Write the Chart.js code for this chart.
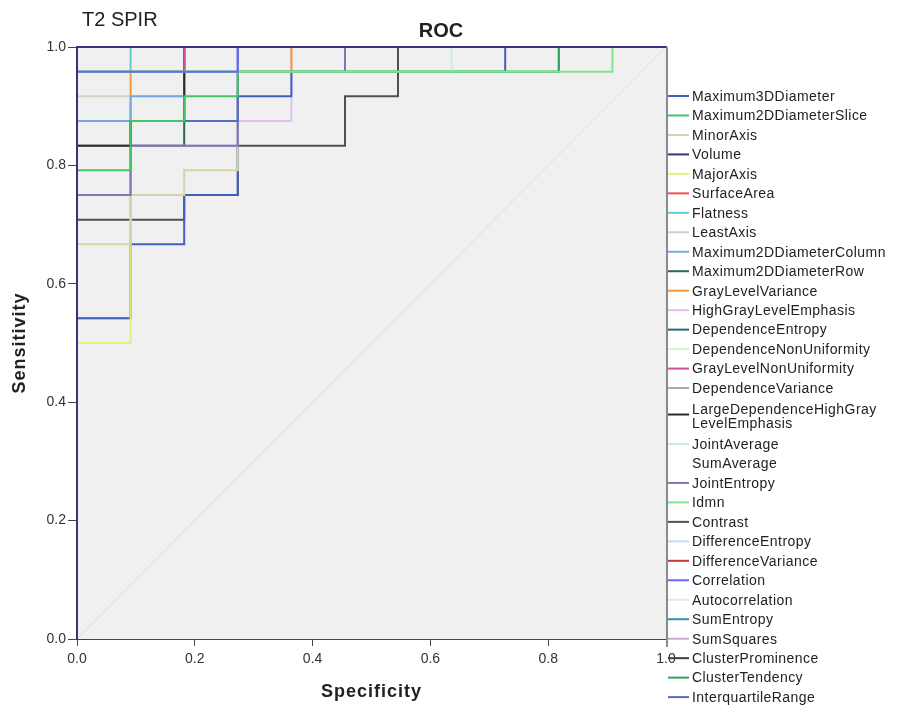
<!DOCTYPE html>
<html lang="en">
<head>
    <meta charset="UTF-8">
    <title>ROC - T2 SPIR</title>
    <script src="https://cdn.jsdelivr.net/npm/chart.js"></script>
    <style>
        body {
            margin: 0;
            padding: 0;
            background: #fff;
        }
        #roc {
            display: block;
        }
    </style>
</head>
<body>
    <canvas id="roc" width="901" height="713"></canvas>

    <script>
        // ROC curves, points as [1 - specificity, sensitivity] corners (11 negatives, 24 positives)
        const maximum3DDiameter = [[0, 0], [0, 0.542], [0.091, 0.542], [0.091, 0.667], [0.182, 0.667], [0.182, 0.75], [0.273, 0.75], [0.273, 0.917], [0.364, 0.917], [0.364, 0.958], [0.727, 0.958], [0.727, 1], [1, 1]];
        const maximum2DDiameterSlice = [[0, 0], [0, 0.792], [0.091, 0.792], [0.091, 0.875], [0.182, 0.875], [0.182, 0.917], [0.273, 0.917], [0.273, 0.958], [0.818, 0.958], [0.818, 1], [1, 1]];
        const minorAxis = [[0, 0], [0, 0.667], [0.091, 0.667], [0.091, 0.75], [0.182, 0.75], [0.182, 0.792], [0.273, 0.792], [0.273, 1], [1, 1]];
        const volume = [[0, 0], [0, 1], [1, 1]];
        const majorAxis = [[0, 0], [0, 0.5], [0.091, 0.5], [0.091, 0.875], [0.182, 0.875], [0.182, 1], [1, 1]];
        const surfaceArea = [[0, 0], [0, 1], [1, 1]];
        const flatness = [[0, 0], [0, 0.958], [0.091, 0.958], [0.091, 1], [1, 1]];
        const leastAxis = [[0, 0], [0, 0.917], [0.182, 0.917], [0.182, 1], [1, 1]];
        const maximum2DDiameterColumn = [[0, 0], [0, 0.875], [0.091, 0.875], [0.091, 0.917], [0.182, 0.917], [0.182, 1], [1, 1]];
        const maximum2DDiameterRow = [[0, 0], [0, 0.833], [0.182, 0.833], [0.182, 1], [1, 1]];
        const grayLevelVariance = [[0, 0], [0, 0.542], [0.091, 0.542], [0.091, 0.958], [0.364, 0.958], [0.364, 1], [1, 1]];
        const highGrayLevelEmphasis = [[0, 0], [0, 0.875], [0.364, 0.875], [0.364, 1], [1, 1]];
        const dependenceEntropy = [[0, 0], [0, 1], [1, 1]];
        const dependenceNonUniformity = [[0, 0], [0, 1], [1, 1]];
        const grayLevelNonUniformity = [[0, 0], [0, 0.958], [0.182, 0.958], [0.182, 1], [1, 1]];
        const dependenceVariance = [[0, 0], [0, 0.75], [0.091, 0.75], [0.091, 0.875], [0.182, 0.875], [0.182, 1], [1, 1]];
        const largeDependenceHighGrayLevelEmphasis = [[0, 0], [0, 0.833], [0.091, 0.833], [0.091, 0.875], [0.182, 0.875], [0.182, 1], [1, 1]];
        const jointAverage = [[0, 0], [0, 0.958], [0.636, 0.958], [0.636, 1], [1, 1]];
        const sumAverage = [[0, 0], [0, 1], [1, 1]];
        const jointEntropy = [[0, 0], [0, 0.75], [0.091, 0.75], [0.091, 0.833], [0.273, 0.833], [0.273, 0.958], [0.455, 0.958], [0.455, 1], [1, 1]];
        const idmn = [[0, 0], [0, 0.958], [0.909, 0.958], [0.909, 1], [1, 1]];
        const contrast = [[0, 0], [0, 0.708], [0.182, 0.708], [0.182, 0.75], [0.273, 0.75], [0.273, 0.833], [0.455, 0.833], [0.455, 0.917], [0.545, 0.917], [0.545, 1], [1, 1]];
        const differenceEntropy = [[0, 0], [0, 1], [1, 1]];
        const differenceVariance = [[0, 0], [0, 1], [1, 1]];
        const correlation = [[0, 0], [0, 0.958], [0.273, 0.958], [0.273, 1], [1, 1]];
        const autocorrelation = [[0, 0], [0, 1], [1, 1]];
        const sumEntropy = [[0, 0], [0, 1], [1, 1]];
        const sumSquares = [[0, 0], [0, 0.833], [0.273, 0.833], [0.273, 1], [1, 1]];
        const clusterProminence = [[0, 0], [0, 1], [1, 1]];
        const clusterTendency = [[0, 0], [0, 0.958], [0.818, 0.958], [0.818, 1], [1, 1]];
        const interquartileRange = [[0, 0], [0, 0.875], [0.273, 0.875], [0.273, 1], [1, 1]];

        const referenceLine = [[0, 0], [1, 1]];

        // legend order
        const seriesNames = [
            'Maximum3DDiameter', 'Maximum2DDiameterSlice', 'MinorAxis', 'Volume', 'MajorAxis',
            'SurfaceArea', 'Flatness', 'LeastAxis', 'Maximum2DDiameterColumn', 'Maximum2DDiameterRow',
            'GrayLevelVariance', 'HighGrayLevelEmphasis', 'DependenceEntropy', 'DependenceNonUniformity',
            'GrayLevelNonUniformity', 'DependenceVariance', 'LargeDependenceHighGrayLevelEmphasis',
            'JointAverage', 'SumAverage', 'JointEntropy', 'Idmn', 'Contrast', 'DifferenceEntropy',
            'DifferenceVariance', 'Correlation', 'Autocorrelation', 'SumEntropy', 'SumSquares',
            'ClusterProminence', 'ClusterTendency', 'InterquartileRange'
        ];
        const seriesPoints = [
            maximum3DDiameter, maximum2DDiameterSlice, minorAxis, volume, majorAxis,
            surfaceArea, flatness, leastAxis, maximum2DDiameterColumn, maximum2DDiameterRow,
            grayLevelVariance, highGrayLevelEmphasis, dependenceEntropy, dependenceNonUniformity,
            grayLevelNonUniformity, dependenceVariance, largeDependenceHighGrayLevelEmphasis,
            jointAverage, sumAverage, jointEntropy, idmn, contrast, differenceEntropy,
            differenceVariance, correlation, autocorrelation, sumEntropy, sumSquares,
            clusterProminence, clusterTendency, interquartileRange
        ];
        const seriesColors = [
            '#4060c0', '#44c464', '#d4d4a4', '#3e2f7c', '#e6f07c',
            '#f05050', '#60d0d0', '#d2d2c2', '#78a8e0', '#2a6a48',
            '#f89830', '#dcc0f6', '#2a6878', '#d0f6d0',
            '#d05090', '#a8a8a8', '#2c2c2c',
            '#c8ecec', '#ffffff', '#7a7ab2', '#80e48a', '#505050', '#c0dcf4',
            '#c03838', '#6868f8', '#e6e6e6', '#3090b0', '#c8a8d8',
            '#404040', '#30a060', '#5070c0'
        ];

        const xTicks = [0, 0.2, 0.4, 0.6, 0.8, 1.0];
        const yTicks = [0, 0.2, 0.4, 0.6, 0.8, 1.0];

        // bottom -> top
        const drawOrder = [
            'SumAverage', 'Autocorrelation', 'DifferenceEntropy', 'DependenceNonUniformity', 'SumEntropy',
            'DependenceEntropy', 'SurfaceArea', 'ClusterProminence', 'DifferenceVariance',
            'HighGrayLevelEmphasis', 'GrayLevelVariance', 'Contrast', 'Maximum3DDiameter', 'MajorAxis',
            'Maximum2DDiameterRow', 'MinorAxis', 'LeastAxis', 'DependenceVariance', 'SumSquares',
            'JointEntropy', 'InterquartileRange', 'Maximum2DDiameterColumn',
            'LargeDependenceHighGrayLevelEmphasis', 'Maximum2DDiameterSlice', 'Flatness',
            'GrayLevelNonUniformity', 'JointAverage', 'ClusterTendency', 'Idmn', 'Correlation', 'Volume'
        ];

        const FONT = '"Liberation Sans", Arial, sans-serif';

        const toXY = pts => pts.map(p => ({ x: p[0], y: p[1] }));

        const datasets = [{
            label: 'reference',
            data: toXY(referenceLine),
            borderColor: '#dcdcdc',
            borderWidth: 1,
            order: 1000
        }];
        drawOrder.forEach((name, idx) => {
            const i = seriesNames.indexOf(name);
            datasets.push({
                label: name,
                data: toXY(seriesPoints[i]),
                borderColor: seriesColors[i],
                borderWidth: 2,
                clip: 2,
                order: drawOrder.length - idx
            });
        });

        const frame = {
            id: 'frame',
            beforeDraw(chart) {
                const { ctx, chartArea: a } = chart;
                ctx.save();
                ctx.fillStyle = '#fff';
                ctx.fillRect(0, 0, chart.width, chart.height);
                ctx.fillStyle = '#f0f0f0';
                ctx.fillRect(a.left, a.top, a.right - a.left, a.bottom - a.top);
                ctx.restore();
            },
            afterDraw(chart) {
                const { ctx, chartArea: a } = chart;
                ctx.save();
                // right border, runs a little past the x axis
                ctx.strokeStyle = '#8a8a8a';
                ctx.lineWidth = 2;
                ctx.beginPath();
                ctx.moveTo(a.right + 1, a.top);
                ctx.lineTo(a.right + 1, a.bottom + 8);
                ctx.stroke();

                ctx.fillStyle = '#222';
                ctx.textBaseline = 'middle';
                ctx.font = '20px ' + FONT;
                ctx.textAlign = 'left';
                ctx.fillText('T2 SPIR', 82, 20);
                ctx.font = 'bold 20px ' + FONT;
                ctx.textAlign = 'center';
                ctx.fillText('ROC', 441, 31);

                ctx.font = 'bold 18px ' + FONT;
                ctx.letterSpacing = '1px';
                ctx.fillText('Specificity', (a.left + a.right) / 2, 692);
                ctx.save();
                ctx.translate(20, (a.top + a.bottom) / 2);
                ctx.rotate(-Math.PI / 2);
                ctx.fillText('Sensitivity', 0, 0);
                ctx.restore();

                // legend
                ctx.font = '14px ' + FONT;
                ctx.letterSpacing = '0.45px';
                ctx.textAlign = 'left';
                let y = 97;
                seriesNames.forEach((name, i) => {
                    let lines = [name];
                    if (ctx.measureText(name).width > 205) {
                        let cut = name.length;
                        for (let k = name.length - 1; k > 0; k--) {
                            if (/[A-Z]/.test(name[k]) && ctx.measureText(name.slice(0, k)).width <= 195) { cut = k; break; }
                        }
                        lines = [name.slice(0, cut), name.slice(cut)];
                    }
                    const top = lines.length > 1 ? y + 2 : y;
                    ctx.strokeStyle = seriesColors[i];
                    ctx.lineWidth = 2;
                    ctx.beginPath();
                    ctx.moveTo(668, top + (lines.length > 1 ? 4 : -1));
                    ctx.lineTo(689, top + (lines.length > 1 ? 4 : -1));
                    ctx.stroke();
                    lines.forEach((t, j) => ctx.fillText(t, 692, top + j * 14));
                    y += 19.47 + (lines.length - 1) * 17;
                });
                ctx.restore();
            }
        };

        new Chart(document.getElementById('roc'), {
            type: 'line',
            data: { datasets },
            options: {
                responsive: false,
                animation: false,
                devicePixelRatio: 1,
                layout: { padding: { top: 47, right: 235, left: 0, bottom: 0 } },
                elements: {
                    point: { radius: 0, hoverRadius: 0 },
                    line: { tension: 0, fill: false, borderCapStyle: 'square', borderJoinStyle: 'miter' }
                },
                plugins: {
                    legend: { display: false },
                    title: { display: false },
                    tooltip: { enabled: false }
                },
                scales: {
                    x: {
                        type: 'linear',
                        min: 0,
                        max: 1,
                        afterFit: s => { s.height = 74; },
                        afterBuildTicks: s => { s.ticks = xTicks.map(v => ({ value: v })); },
                        ticks: {
                            callback: v => v.toFixed(1),
                            color: '#333',
                            font: { family: FONT, size: 14 },
                            padding: 5,
                            maxRotation: 0
                        },
                        grid: { drawOnChartArea: false, drawTicks: true, tickLength: 7, color: '#444' },
                        border: { display: true, color: '#444', width: 1 }
                    },
                    y: {
                        type: 'linear',
                        min: 0,
                        max: 1,
                        afterFit: s => { s.width = 77; },
                        afterBuildTicks: s => { s.ticks = yTicks.map(v => ({ value: v })); },
                        ticks: {
                            callback: v => v.toFixed(1),
                            color: '#333',
                            font: { family: FONT, size: 14 },
                            padding: 2
                        },
                        grid: { drawOnChartArea: false, drawTicks: true, tickLength: 9, color: '#444' },
                        border: { display: true, color: '#3e2f7c', width: 1 }
                    }
                }
            },
            plugins: [frame]
        });
    </script>
</body>
</html>
